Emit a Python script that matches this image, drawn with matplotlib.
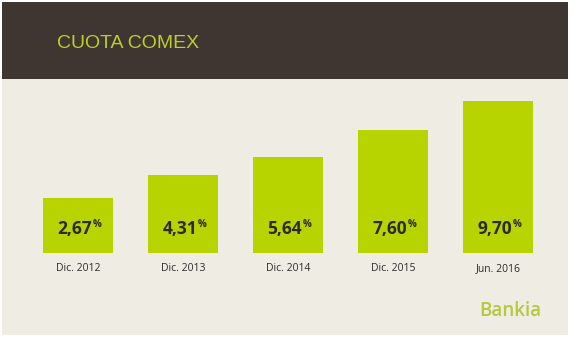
import matplotlib.pyplot as plt
from matplotlib.patches import Rectangle

# data
categories = ['Dic. 2012', 'Dic. 2013', 'Dic. 2014', 'Dic. 2015', 'Jun. 2016']
values = [2.67, 4.31, 5.64, 7.60, 9.70]
value_labels = ['2,67', '4,31', '5,64', '7,60', '9,70']
title = 'CUOTA COMEX'
brand = 'Bankia'

header_color = '#3f3631'
panel_color = '#efede3'
bar_color = '#b8d400'
title_color = '#b9cf2c'
text_color = '#2b2b2b'
brand_color = '#b4c840'

# the bars in the original don't start at zero, so the axis floor sits a bit below
base = -1.35

W, H = 579, 352
fig = plt.figure(figsize=(W / 100, H / 100), dpi=100)
fig.patch.set_facecolor('white')

# panel + header
fig.patches.append(Rectangle((2 / W, 17 / H), 566 / W, 333 / H, transform=fig.transFigure,
                             facecolor=panel_color, edgecolor='none', zorder=-2))
fig.patches.append(Rectangle((2 / W, 273 / H), 566 / W, 77 / H, transform=fig.transFigure,
                             facecolor=header_color, edgecolor='none', zorder=-1))

fig.text(57 / W, 1 - 44 / H, title, color=title_color, fontsize=14, family='Liberation Sans',
         ha='left', va='center')

ax = fig.add_axes([25.5 / W, 99 / H, 525 / W, 170 / H], zorder=2)
ax.set_facecolor('none')
x = range(len(values))
ax.bar(x, [v - base for v in values], width=0.667, bottom=base, color=bar_color, zorder=2)
ax.set_xlim(-0.5, len(values) - 0.5)
ax.set_ylim(base, 11)
ax.axis('off')

for i, lab in enumerate(value_labels):
    t = ax.text(i - 0.03, 0.36, lab, fontsize=12.5, fontweight='bold', family='Open Sans',
                color=text_color, ha='center', va='center', zorder=3)
    # small raised percent sign
    ax.annotate('%', xy=(1, 1), xycoords=t, xytext=(0.3, 0.8), textcoords='offset points',
                fontsize=7, fontweight='bold', family='Open Sans', color=text_color,
                ha='left', va='top', zorder=3)
    ax.text(i, -2.5, categories[i], fontsize=7.5, family='Open Sans', color=text_color,
            ha='center', va='center', clip_on=False)

fig.text(510 / W, 1 - 311 / H, brand, color=brand_color, fontsize=13.5, family='Open Sans',
         fontweight='semibold', ha='center', va='center')

fig.savefig('out.png', dpi=100, facecolor='white')
